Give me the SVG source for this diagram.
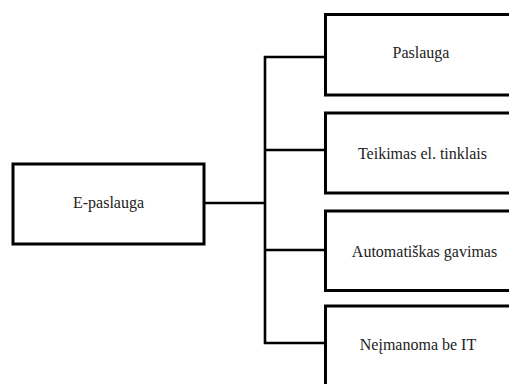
<svg xmlns="http://www.w3.org/2000/svg" width="509" height="384" viewBox="0 0 509 384">
<style>
.box{fill:#fff;stroke:#000;stroke-width:3}
.lbl{font-family:'Liberation Serif','Times New Roman','DejaVu Serif',serif;font-size:16px;fill:#222;text-anchor:middle}
.con{fill:none;stroke:#000;stroke-width:2.6}
</style>
<rect width="509" height="384" fill="#fff"/>
<g id="connectors">
<line class="con" x1="204" y1="203" x2="265" y2="203"/>
<polyline class="con" points="325,57 265,57 265,343 325,343"/>
<line class="con" x1="265" y1="150" x2="325" y2="150"/>
<line class="con" x1="265" y1="250" x2="325" y2="250"/>
</g>
<g id="e-paslauga">
<rect class="box" x="13" y="164" width="191" height="80"/>
<text class="lbl" x="108.5" y="208">E-paslauga</text>
</g>
<g id="paslauga">
<rect class="box" x="325.5" y="14.5" width="192" height="80.5"/>
<text class="lbl" x="421" y="58">Paslauga</text>
</g>
<g id="teikimas">
<rect class="box" x="325.5" y="113" width="192" height="80"/>
<text class="lbl" x="422.5" y="159">Teikimas el. tinklais</text>
</g>
<g id="automatiskas">
<rect class="box" x="325.5" y="211" width="192" height="79.5"/>
<text class="lbl" x="424.5" y="257">Automatiškas gavimas</text>
</g>
<g id="neimanoma">
<rect class="box" x="325.5" y="306" width="192" height="90"/>
<text class="lbl" x="418" y="349.5">Neįmanoma be IT</text>
</g>
</svg>
